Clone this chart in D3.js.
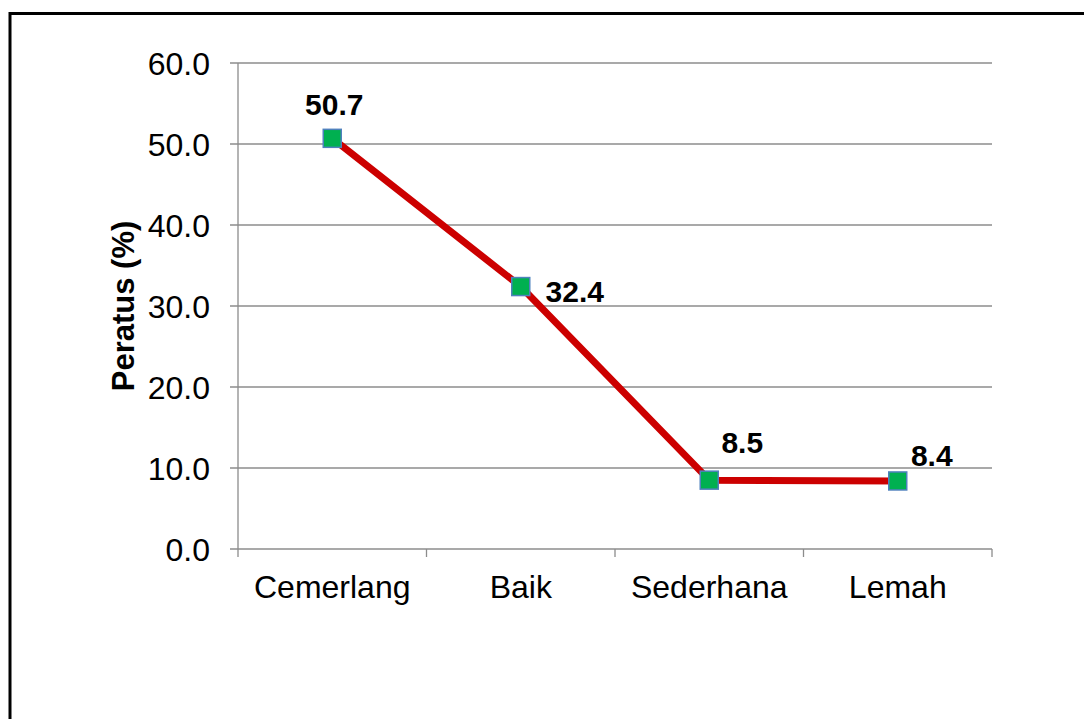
<!DOCTYPE html>
<html><head><meta charset="utf-8">
<script src="https://cdn.jsdelivr.net/npm/d3@7"></script>
<style>body{margin:0;background:#fff;} svg{display:block;font-family:"Liberation Sans",Arial,sans-serif;}</style>
</head><body>
<svg id="c" width="1084" height="719"></svg>
<script>
const categories = ["Cemerlang", "Baik", "Sederhana", "Lemah"];
const values = [50.7, 32.4, 8.5, 8.4];
const yTicks = [0, 10, 20, 30, 40, 50, 60];
const labelOffsets = [[2, -34], [54, 4], [33, -38], [34, -26]];

const svg = d3.select("#c");
svg.append("rect").attr("x", 10).attr("y", 13.5).attr("width", 1100).attr("height", 760)
  .attr("fill", "none").attr("stroke", "#000").attr("stroke-width", 3);

const L = 238, R = 992, T = 63, B = 549;
const x = d3.scaleBand().domain(categories).range([L, R]);
const y = d3.scaleLinear().domain([0, 60]).range([B, T]);

const g = svg.append("g");
g.selectAll("line.grid").data(yTicks).join("line")
  .attr("x1", L - 8).attr("x2", R).attr("y1", d => y(d)).attr("y2", d => y(d))
  .attr("stroke", "#8c8c8c").attr("stroke-width", 1.3);
g.append("line").attr("x1", L).attr("x2", L).attr("y1", T).attr("y2", B)
  .attr("stroke", "#8c8c8c").attr("stroke-width", 1.3);
g.selectAll("text.yl").data(yTicks).join("text")
  .attr("x", 210).attr("y", d => y(d) + 11.5).attr("text-anchor", "end")
  .attr("font-size", 32).attr("fill", "#000").text(d => d.toFixed(1));
const xt = categories.map(c => x(c)).concat([R]);
g.selectAll("line.xt").data(xt).join("line")
  .attr("x1", d => d).attr("x2", d => d).attr("y1", B).attr("y2", B + 8)
  .attr("stroke", "#8c8c8c").attr("stroke-width", 1.3);
g.selectAll("text.xl").data(categories).join("text")
  .attr("x", d => x(d) + x.bandwidth() / 2).attr("y", 598)
  .attr("text-anchor", "middle").attr("font-size", 32).attr("fill", "#000").text(d => d);
svg.append("text").attr("transform", `translate(134,${(T + B) / 2}) rotate(-90)`)
  .attr("text-anchor", "middle").attr("font-size", 31).attr("font-weight", "bold")
  .text("Peratus (%)");

const pts = categories.map((c, i) => [x(c) + x.bandwidth() / 2, y(values[i])]);
g.append("path").attr("d", d3.line()(pts)).attr("fill", "none")
  .attr("stroke", "#cc0000").attr("stroke-width", 7).attr("stroke-linejoin", "round");
g.selectAll("rect.m").data(pts).join("rect")
  .attr("x", d => d[0] - 9).attr("y", d => d[1] - 9).attr("width", 18).attr("height", 18)
  .attr("fill", "#00b050").attr("stroke", "#4f81bd").attr("stroke-width", 1.5);
g.selectAll("text.dl").data(pts).join("text")
  .attr("x", (d, i) => d[0] + labelOffsets[i][0]).attr("y", (d, i) => d[1] + labelOffsets[i][1] + 11)
  .attr("text-anchor", "middle").attr("font-size", 30).attr("font-weight", "bold")
  .text((d, i) => values[i].toFixed(1));
</script>
</body></html>
